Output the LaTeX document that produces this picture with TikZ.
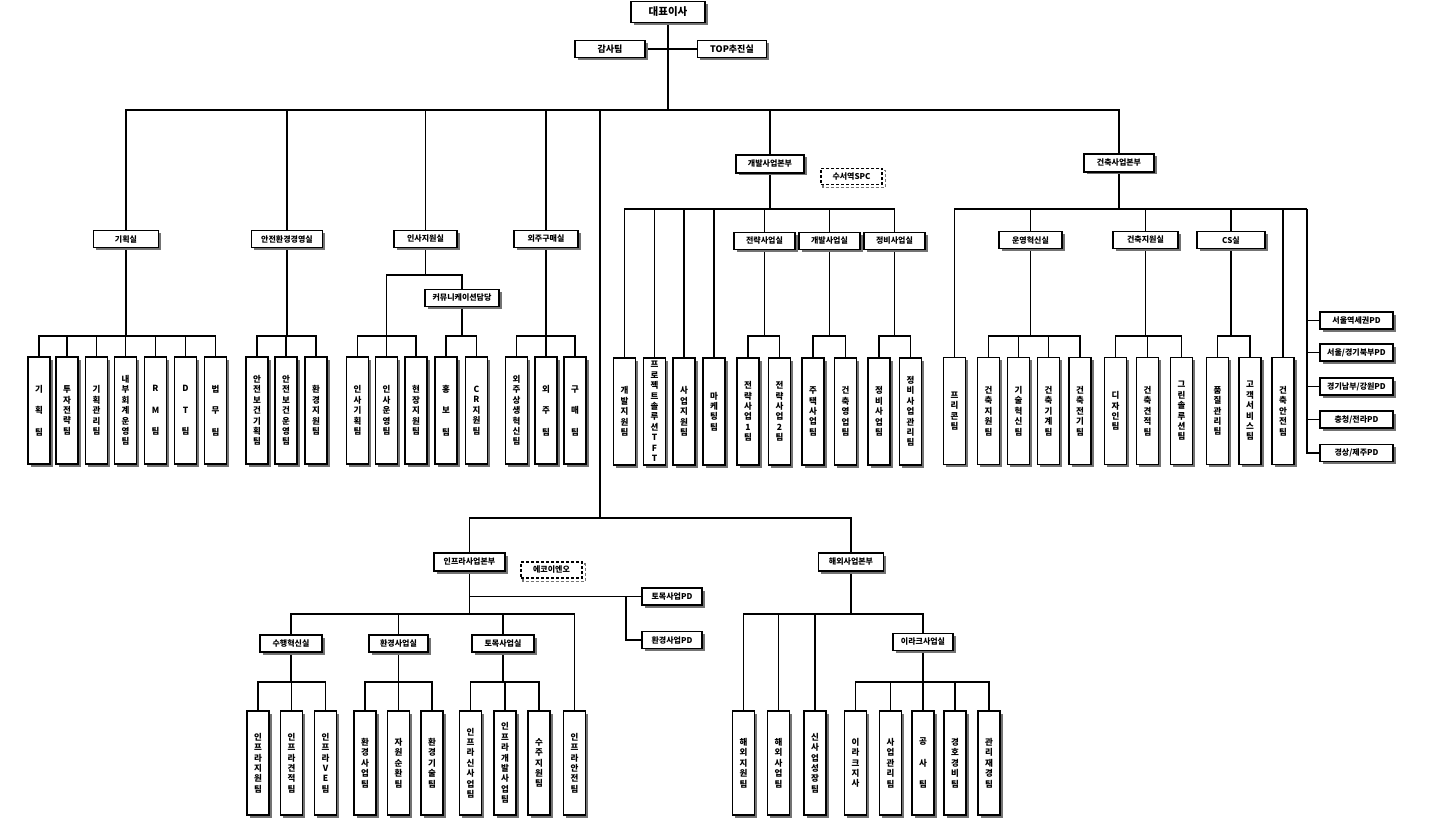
\documentclass[tikz,border=0pt]{standalone}
\usepackage{fontspec}
\setmainfont{Noto Sans CJK KR}
\usetikzlibrary{shadows}
\pgfdeclarelayer{bg}
\pgfsetlayers{bg,main}

\tikzset{
  box/.style={draw=black, line width=1.3pt, fill=white, inner sep=1pt,
    drop shadow={shadow xshift=2.5pt, shadow yshift=-2.5pt, fill=black!55, opacity=1}},
  hb/.style={box, minimum width=62pt, minimum height=17pt, font=\bfseries\fontsize{8}{9}\selectfont},
  tb/.style={box, minimum width=22pt, minimum height=107pt, inner ysep=0pt, align=center,
    font=\bfseries\fontsize{8.5}{10.4}\selectfont},
  lowtb/.style={tb, minimum height=104pt},
  tri/.style={font=\bfseries\fontsize{8.5}{21.5}\selectfont},
  dbox/.style={draw=black, line width=1.3pt, dash pattern=on 3pt off 2pt, fill=white,
    minimum width=61pt, minimum height=16pt, inner sep=1pt, font=\bfseries\fontsize{8}{9}\selectfont},
  conn/.style={line width=1.1pt, black},
}

% parent -> horizontal bus at the given level -> children
\newcommand\orgbus[3]{%
  \draw[conn] (#1.south) -- (#1.south |- #2);
  \foreach \c in {#3} {\draw[conn] (\c.north) |- (#1.south |- #2);}
}

\begin{document}
\begin{tikzpicture}[x=1pt, y=-1pt]
\useasboundingbox (0,0) rectangle (1434,821);

% bus levels
\coordinate (b0) at (0,110);
\coordinate (bh) at (0,275);
\coordinate (bt) at (0,336);
\coordinate (b209) at (0,209);
\coordinate (b614) at (0,614);
\coordinate (b682) at (0,682);
\coordinate (hub) at (600,518);
\coordinate (pdc) at (1307,209);
\coordinate (pdj) at (626,0);

% ---------- top ----------
\node[hb, minimum width=74pt, minimum height=21pt, font=\bfseries\fontsize{10.5}{12}\selectfont] (ceo) at (668,12) {대표이사};
\node[hb, minimum width=70pt, font=\bfseries\fontsize{9}{10}\selectfont] (audit) at (610,49) {감사팀};
\node[hb, minimum width=69pt, font=\bfseries\fontsize{9}{10}\selectfont] (topo) at (732,49) {TOP추진실};

% ---------- staff offices ----------
\node[hb, minimum width=65pt] (plan) at (126,239) {기획실};
\node[hb, minimum width=71pt] (safe) at (287,239) {안전환경경영실};
\node[hb, minimum width=63pt] (hr) at (425.5,239) {인사지원실};
\node[hb, minimum width=64pt] (pur) at (546,239) {외주구매실};
\node[hb, minimum width=74pt] (comm) at (462,298) {커뮤니케이션담당};

\node[tb, tri] (k1) at (39,410.5) {기\\획\\팀};
\node[tb] (k2) at (67,410.5) {투\\자\\전\\략\\팀};
\node[tb] (k3) at (96.5,410.5) {기\\획\\관\\리\\팀};
\node[tb] (k4) at (125.5,410.5) {내\\부\\회\\계\\운\\영\\팀};
\node[tb, tri] (k5) at (155.5,410.5) {R\\M\\팀};
\node[tb, tri] (k6) at (185.5,410.5) {D\\T\\팀};
\node[tb, tri] (k7) at (215.5,410.5) {법\\무\\팀};

\node[tb] (s1) at (257,410.5) {안\\전\\보\\건\\기\\획\\팀};
\node[tb] (s2) at (286,410.5) {안\\전\\보\\건\\운\\영\\팀};
\node[tb] (s3) at (316,410.5) {환\\경\\지\\원\\팀};

\node[tb] (h1) at (357.5,410.5) {인\\사\\기\\획\\팀};
\node[tb] (h2) at (386.5,410.5) {인\\사\\운\\영\\팀};
\node[tb] (h3) at (416,410.5) {현\\장\\지\\원\\팀};
\node[tb, tri] (h4) at (446,410.5) {홍\\보\\팀};
\node[tb] (h5) at (476.5,410.5) {C\\R\\지\\원\\팀};

\node[tb] (p1) at (516.5,410.5) {외\\주\\상\\생\\혁\\신\\팀};
\node[tb, tri] (p2) at (546,410.5) {외\\주\\팀};
\node[tb, tri] (p3) at (575,410.5) {구\\매\\팀};

% ---------- development division ----------
\node[hb, minimum width=68pt, minimum height=18pt] (dev) at (770,164) {개발사업본부};
\node[dbox] (spc) at (851.5,176.5) {수서역SPC};
\node[hb, minimum width=61pt] (ds1) at (764.5,241) {전략사업실};
\node[hb, minimum width=61pt] (ds2) at (829.5,241) {개발사업실};
\node[hb, minimum width=61pt] (ds3) at (894.5,241) {정비사업실};

\node[tb] (d1) at (624.5,411.5) {개\\발\\지\\원\\팀};
\node[tb] (d2) at (654.5,411.5) {프\\로\\젝\\트\\솔\\루\\션\\T\\F\\T};
\node[tb] (d3) at (684,411.5) {사\\업\\지\\원\\팀};
\node[tb] (d4) at (714,411.5) {마\\케\\팅\\팀};
\node[tb] (d5) at (748,411.5) {전\\략\\사\\업\\1\\팀};
\node[tb] (d6) at (779.5,411.5) {전\\략\\사\\업\\2\\팀};
\node[tb] (d7) at (813,411.5) {주\\택\\사\\업\\팀};
\node[tb] (d8) at (845.5,411.5) {건\\축\\영\\업\\팀};
\node[tb] (d9) at (879,411.5) {정\\비\\사\\업\\팀};
\node[tb] (d10) at (910.5,411.5) {정\\비\\사\\업\\관\\리\\팀};

% ---------- architecture division ----------
\node[hb, minimum width=70pt, minimum height=18pt] (arch) at (1119,163) {건축사업본부};
\node[hb, minimum width=63pt] (ao1) at (1030.5,240) {운영혁신실};
\node[hb, minimum width=65pt] (ao2) at (1145.5,240) {건축지원실};
\node[hb, minimum width=68pt] (ao3) at (1231,240) {CS실};

\node[tb] (a1) at (954.5,411) {프\\리\\콘\\팀};
\node[tb] (a2) at (988.5,411) {건\\축\\지\\원\\팀};
\node[tb] (a3) at (1018.5,411) {기\\술\\혁\\신\\팀};
\node[tb] (a4) at (1048.5,411) {건\\축\\기\\계\\팀};
\node[tb] (a5) at (1080,411) {건\\축\\전\\기\\팀};
\node[tb] (a6) at (1115.5,411) {디\\자\\인\\팀};
\node[tb] (a7) at (1147.5,411) {건\\축\\견\\적\\팀};
\node[tb] (a8) at (1181.5,411) {그\\린\\솔\\루\\션\\팀};
\node[tb] (a9) at (1217.5,411) {품\\질\\관\\리\\팀};
\node[tb] (a10) at (1250,411) {고\\객\\서\\비\\스\\팀};
\node[tb] (a11) at (1283,411) {건\\축\\안\\전\\팀};

\node[hb, minimum width=73pt] (pd1) at (1356.5,320.5) {서울역세권PD};
\node[hb, minimum width=73pt] (pd2) at (1356.5,352.5) {서울/경기북부PD};
\node[hb, minimum width=73pt] (pd3) at (1356.5,386.5) {경기남부/강원PD};
\node[hb, minimum width=73pt] (pd4) at (1356.5,419.5) {충청/전라PD};
\node[hb, minimum width=73pt] (pd5) at (1356.5,453) {경상/제주PD};

% ---------- infrastructure division ----------
\node[hb, minimum width=71pt, minimum height=18pt] (infra) at (469.5,562) {인프라사업본부};
\node[dbox] (eco) at (551.5,570) {에코이엔오};
\node[hb, minimum width=60pt] (tmpd) at (672,596.5) {토목사업PD};
\node[hb, minimum width=60pt] (envpd) at (672,640) {환경사업PD};
\node[hb, minimum width=62pt] (io1) at (291,643.5) {수행혁신실};
\node[hb, minimum width=59pt] (io2) at (398.5,643.5) {환경사업실};
\node[hb, minimum width=62pt] (io3) at (503,643.5) {토목사업실};

\node[lowtb] (i1) at (258,763) {인\\프\\라\\지\\원\\팀};
\node[lowtb] (i2) at (291.5,763) {인\\프\\라\\견\\적\\팀};
\node[lowtb] (i3) at (325.5,763) {인\\프\\라\\V\\E\\팀};
\node[lowtb] (i4) at (365,763) {환\\경\\사\\업\\팀};
\node[lowtb] (i5) at (398.5,763) {자\\원\\순\\환\\팀};
\node[lowtb] (i6) at (432,763) {환\\경\\기\\술\\팀};
\node[lowtb] (i7) at (470.5,763) {인\\프\\라\\신\\사\\업\\팀};
\node[lowtb] (i8) at (505,763) {인\\프\\라\\개\\발\\사\\업\\팀};
\node[lowtb] (i9) at (539,763) {수\\주\\지\\원\\팀};
\node[lowtb] (i10) at (574.5,763) {인\\프\\라\\안\\전\\팀};

% ---------- overseas division ----------
\node[hb, minimum width=65pt, minimum height=18pt] (ovs) at (851,562) {해외사업본부};
\node[hb, minimum width=60pt] (iraq) at (923,642) {이라크사업실};

\node[lowtb] (o1) at (743.5,763) {해\\외\\지\\원\\팀};
\node[lowtb] (o2) at (778.5,763) {해\\외\\사\\업\\팀};
\node[lowtb] (o3) at (815,763) {신\\사\\업\\성\\장\\팀};
\node[lowtb] (o4) at (855.5,763) {이\\라\\크\\지\\사};
\node[lowtb] (o5) at (890.5,763) {사\\업\\관\\리\\팀};
\node[lowtb, tri] (o6) at (923,763) {공\\사\\팀};
\node[lowtb] (o7) at (955,763) {경\\호\\경\\비\\팀};
\node[lowtb] (o8) at (989,763) {관\\리\\재\\경\\팀};

% ---------- connectors ----------
\begin{pgfonlayer}{bg}
  % shadows of the dashed affiliate boxes
  \foreach \n in {spc,eco}
    \draw[black!55, line width=1.3pt, dash pattern=on 3pt off 2pt]
      ([shift={(2.5,2.5)}]\n.north west) rectangle ([shift={(2.5,2.5)}]\n.south east);

  \draw[conn] (audit.east) -- (topo.west);
  \orgbus{ceo}{b0}{plan,safe,hr,pur,dev,arch}
  \draw[conn] (hub) |- (ceo.south |- b0);

  \orgbus{plan}{bt}{k1,k2,k3,k4,k5,k6,k7}
  \orgbus{safe}{bt}{s1,s2,s3}
  \draw[conn] (hr.south) -- (hr.south |- bh);
  \draw[conn] (h2.north) |- (hr.south |- bh);
  \draw[conn] (comm.north) |- (hr.south |- bh);
  \foreach \c in {h1,h3} {\draw[conn] (\c.north) |- (h2.north |- bt);}
  \orgbus{comm}{bt}{h4,h5}
  \orgbus{pur}{bt}{p1,p2,p3}

  \orgbus{dev}{b209}{d1,d2,d3,d4,ds1,ds2,ds3}
  \orgbus{ds1}{bt}{d5,d6}
  \orgbus{ds2}{bt}{d7,d8}
  \orgbus{ds3}{bt}{d9,d10}

  \orgbus{arch}{b209}{a1,ao1,ao2,ao3,a11}
  \draw[conn] (arch.south |- b209) -- (pdc);
  \foreach \p in {pd1,pd2,pd3,pd4,pd5} {\draw[conn] (\p.west) -| (pdc);}
  \orgbus{ao1}{bt}{a2,a3,a4,a5}
  \orgbus{ao2}{bt}{a6,a7,a8}
  \orgbus{ao3}{bt}{a9,a10}

  \draw[conn] (infra.north) |- (hub);
  \draw[conn] (ovs.north) |- (hub);
  \orgbus{infra}{b614}{io1,io2,io3,i10}
  \draw[conn] (tmpd.west) -- (tmpd.west -| infra.south);
  \draw[conn] (envpd.west) -| (pdj |- tmpd.west);
  \orgbus{io1}{b682}{i1,i2,i3}
  \orgbus{io2}{b682}{i4,i5,i6}
  \orgbus{io3}{b682}{i7,i8,i9}

  \orgbus{ovs}{b614}{o1,o2,o3,iraq}
  \orgbus{iraq}{b682}{o4,o5,o6,o7,o8}
\end{pgfonlayer}
\end{tikzpicture}
\end{document}
